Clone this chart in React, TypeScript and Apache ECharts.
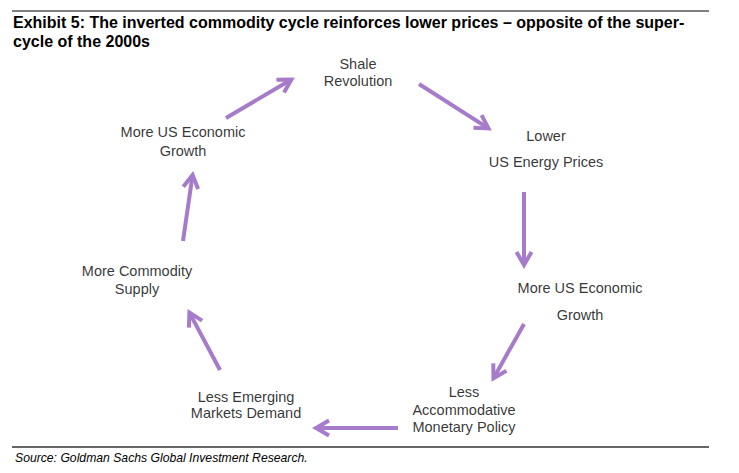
import React, { useEffect, useRef } from "react";
import * as echarts from "echarts";

const W = 739;
const H = 473;

const titleLines = [
  "Exhibit 5: The inverted commodity cycle reinforces lower prices – opposite of the super-",
  "cycle of the 2000s",
];
const sourceText = "Source: Goldman Sachs Global Investment Research.";

// Cycle nodes (text) and their centre positions in the diagram
const nodeNames = [
  "Shale\nRevolution",
  "Lower\nUS Energy Prices",
  "More US Economic\nGrowth",
  "Less\nAccommodative\nMonetary Policy",
  "Less Emerging\nMarkets Demand",
  "More Commodity\nSupply",
  "More US Economic\nGrowth",
];
const nodeX = [358, 546, 580, 464, 246, 137, 183];
const nodeY = [72.5, 149, 301.5, 409.5, 405, 280, 141.5];
const nodeLineHeights = [17, 26, 27, 17.5, 16, 18, 19];

// Arrows between nodes: tail (x, y) -> tip (x, y)
const arrowFromX = [226, 419, 524, 524, 398, 220, 183];
const arrowFromY = [118, 84, 192, 324, 428, 370, 241];
const arrowToX = [294, 491, 524, 492, 313, 188, 193];
const arrowToY = [78, 130, 268, 381, 428, 310, 172];

const PURPLE = "#a67bca";
const FONT = "'Liberation Sans', Arial, Helvetica, sans-serif";

export default function App() {
  const ref = useRef<HTMLDivElement>(null);

  useEffect(() => {
    if (!ref.current) return;
    const chart = echarts.init(ref.current, undefined, { renderer: "svg" });

    const nodeData = nodeNames.map((n, i) => ({
      value: [nodeX[i], nodeY[i]],
      name: n,
      label: { lineHeight: nodeLineHeights[i] },
    }));
    const arrowData = arrowFromX.map((_, i) => [
      arrowFromX[i],
      arrowFromY[i],
      arrowToX[i],
      arrowToY[i],
    ]);

    const option: any = {
      animation: false,
      backgroundColor: "#ffffff",
      grid: { left: 0, right: 0, top: 0, bottom: 0 },
      xAxis: { type: "value", min: 0, max: W, show: false },
      yAxis: { type: "value", min: 0, max: H, inverse: true, show: false },
      series: [
        {
          type: "custom",
          silent: true,
          encode: { x: [0, 2], y: [1, 3] },
          data: arrowData,
          renderItem: (params: any, api: any) => {
            const p1 = api.coord([api.value(0), api.value(1)]);
            const p2 = api.coord([api.value(2), api.value(3)]);
            const dx = p2[0] - p1[0];
            const dy = p2[1] - p1[1];
            const len = Math.sqrt(dx * dx + dy * dy);
            const ux = dx / len;
            const uy = dy / len;
            const tip = [p2[0] - ux * 3, p2[1] - uy * 3];
            const headLen = 15;
            const ang = (30 * Math.PI) / 180;
            const arm = (s: number) => {
              const c = Math.cos(s * ang);
              const sn = Math.sin(s * ang);
              const bx = -(ux * c - uy * sn);
              const by = -(ux * sn + uy * c);
              return [tip[0] + bx * headLen, tip[1] + by * headLen];
            };
            return {
              type: "group",
              children: [
                {
                  type: "line",
                  shape: { x1: p1[0], y1: p1[1], x2: tip[0], y2: tip[1] },
                  style: { stroke: PURPLE, lineWidth: 4 },
                },
                {
                  type: "polyline",
                  shape: { points: [arm(1), tip, arm(-1)] },
                  style: { stroke: PURPLE, lineWidth: 4, fill: null, lineJoin: "miter" },
                },
              ],
            };
          },
        },
        {
          type: "scatter",
          silent: true,
          symbolSize: 0,
          data: nodeData,
          label: {
            show: true,
            position: "inside",
            formatter: (p: any) => p.name,
            color: "#000000",
            fontSize: 14.5,
            fontFamily: FONT,
            align: "center",
            verticalAlign: "middle",
          },
        },
      ],
      graphic: [
        {
          type: "line",
          shape: { x1: 12, y1: 11, x2: 709, y2: 11 },
          style: { stroke: "#555555", lineWidth: 1.5 },
        },
        {
          type: "text",
          x: 13,
          y: 22,
          style: {
            text: titleLines[0],
            font: `bold 16px ${FONT}`,
            fill: "#000000",
            verticalAlign: "middle",
          },
        },
        {
          type: "text",
          x: 13,
          y: 41,
          style: {
            text: titleLines[1],
            font: `bold 16px ${FONT}`,
            fill: "#000000",
            verticalAlign: "middle",
          },
        },
        {
          type: "line",
          shape: { x1: 12, y1: 447, x2: 709, y2: 447 },
          style: { stroke: "#333333", lineWidth: 1.5 },
        },
        {
          type: "text",
          x: 15,
          y: 458,
          style: {
            text: sourceText,
            font: `italic 12.2px ${FONT}`,
            fill: "#000000",
            verticalAlign: "middle",
          },
        },
      ],
    };

    chart.setOption(option);
    return () => chart.dispose();
  }, []);

  return (
    <div
      ref={ref}
      style={{ position: "absolute", left: 0, top: 0, width: W, height: H }}
    />
  );
}
